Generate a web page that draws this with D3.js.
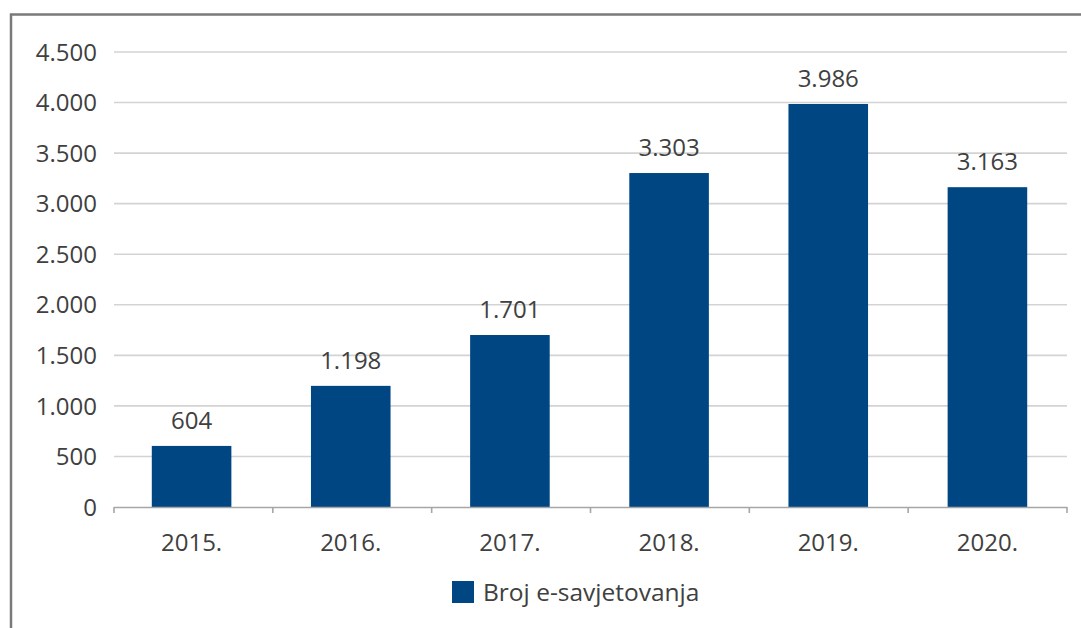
<!DOCTYPE html>
<html><head><meta charset="utf-8">
<script src="https://cdn.jsdelivr.net/npm/d3@7"></script>
<style>
body{margin:0;background:#fff;}
svg text{font-family:"Open Sans","Noto Sans",sans-serif;fill:#404040;}
</style></head>
<body><svg id="c" width="1081" height="628"></svg>
<script>
const categories = ["2015.","2016.","2017.","2018.","2019.","2020."];
const values = [604,1198,1701,3303,3986,3163];
const yTicks = [0,500,1000,1500,2000,2500,3000,3500,4000,4500];
const seriesName = "Broj e-savjetovanja";

const loc = d3.formatLocale({decimal:",",thousands:".",grouping:[3],currency:["","€"]});
const fmt = loc.format(",d");

const svg = d3.select("#c");
const m = {left:114,right:1067,top:52,bottom:507};

svg.append("rect").attr("x",11).attr("y",14.5).attr("width",1200).attr("height",800)
  .attr("fill","none").attr("stroke","#7a7a7a").attr("stroke-width",2.5);

const x = d3.scaleBand().domain(categories).range([m.left-2,m.right]).paddingInner(0.5).paddingOuter(0.25);
const y = d3.scaleLinear().domain([0,4500]).range([m.bottom,m.top]);

// gridlines
svg.append("g").selectAll("line").data(yTicks.filter(d=>d>0)).join("line")
  .attr("x1",m.left).attr("x2",m.right).attr("y1",d=>y(d)).attr("y2",d=>y(d))
  .attr("stroke","#d3d3d3").attr("stroke-width",1.6);

// y labels
svg.append("g").selectAll("text").data(yTicks).join("text")
  .attr("x",97).attr("y",d=>y(d)).attr("dy","0.36em").attr("text-anchor","end")
  .attr("font-size",24).text(d=>fmt(d));

// bars
svg.append("g").selectAll("rect").data(values).join("rect")
  .attr("x",(d,i)=>x(categories[i])).attr("width",x.bandwidth())
  .attr("y",d=>y(d)).attr("height",d=>y(0)-y(d)).attr("fill","#004682");

// value labels
svg.append("g").selectAll("text").data(values).join("text")
  .attr("x",(d,i)=>x(categories[i])+x.bandwidth()/2).attr("y",d=>y(d)-17)
  .attr("text-anchor","middle").attr("font-size",24).text(d=>fmt(d));

// x axis
const xa = svg.append("g");
xa.append("line").attr("x1",m.left).attr("x2",m.right).attr("y1",m.bottom+0.5).attr("y2",m.bottom+0.5)
  .attr("stroke","#a6a6a6").attr("stroke-width",1.6);
const bounds = d3.range(categories.length+1).map(i=>m.left + (m.right-m.left)*i/categories.length);
xa.selectAll("line.t").data(bounds).join("line").attr("class","t")
  .attr("x1",d=>d).attr("x2",d=>d).attr("y1",m.bottom).attr("y2",m.bottom+6)
  .attr("stroke","#a6a6a6").attr("stroke-width",1.6);
xa.selectAll("text").data(categories).join("text")
  .attr("x",d=>x(d)+x.bandwidth()/2).attr("y",542).attr("dy","0.36em")
  .attr("text-anchor","middle").attr("font-size",24).text(d=>d);

// legend
const lg = svg.append("g");
lg.append("rect").attr("x",452).attr("y",581).attr("width",22).attr("height",22).attr("fill","#004682");
lg.append("text").attr("x",483).attr("y",592).attr("dy","0.36em").attr("font-size",24.5).text(seriesName);
</script></body></html>
